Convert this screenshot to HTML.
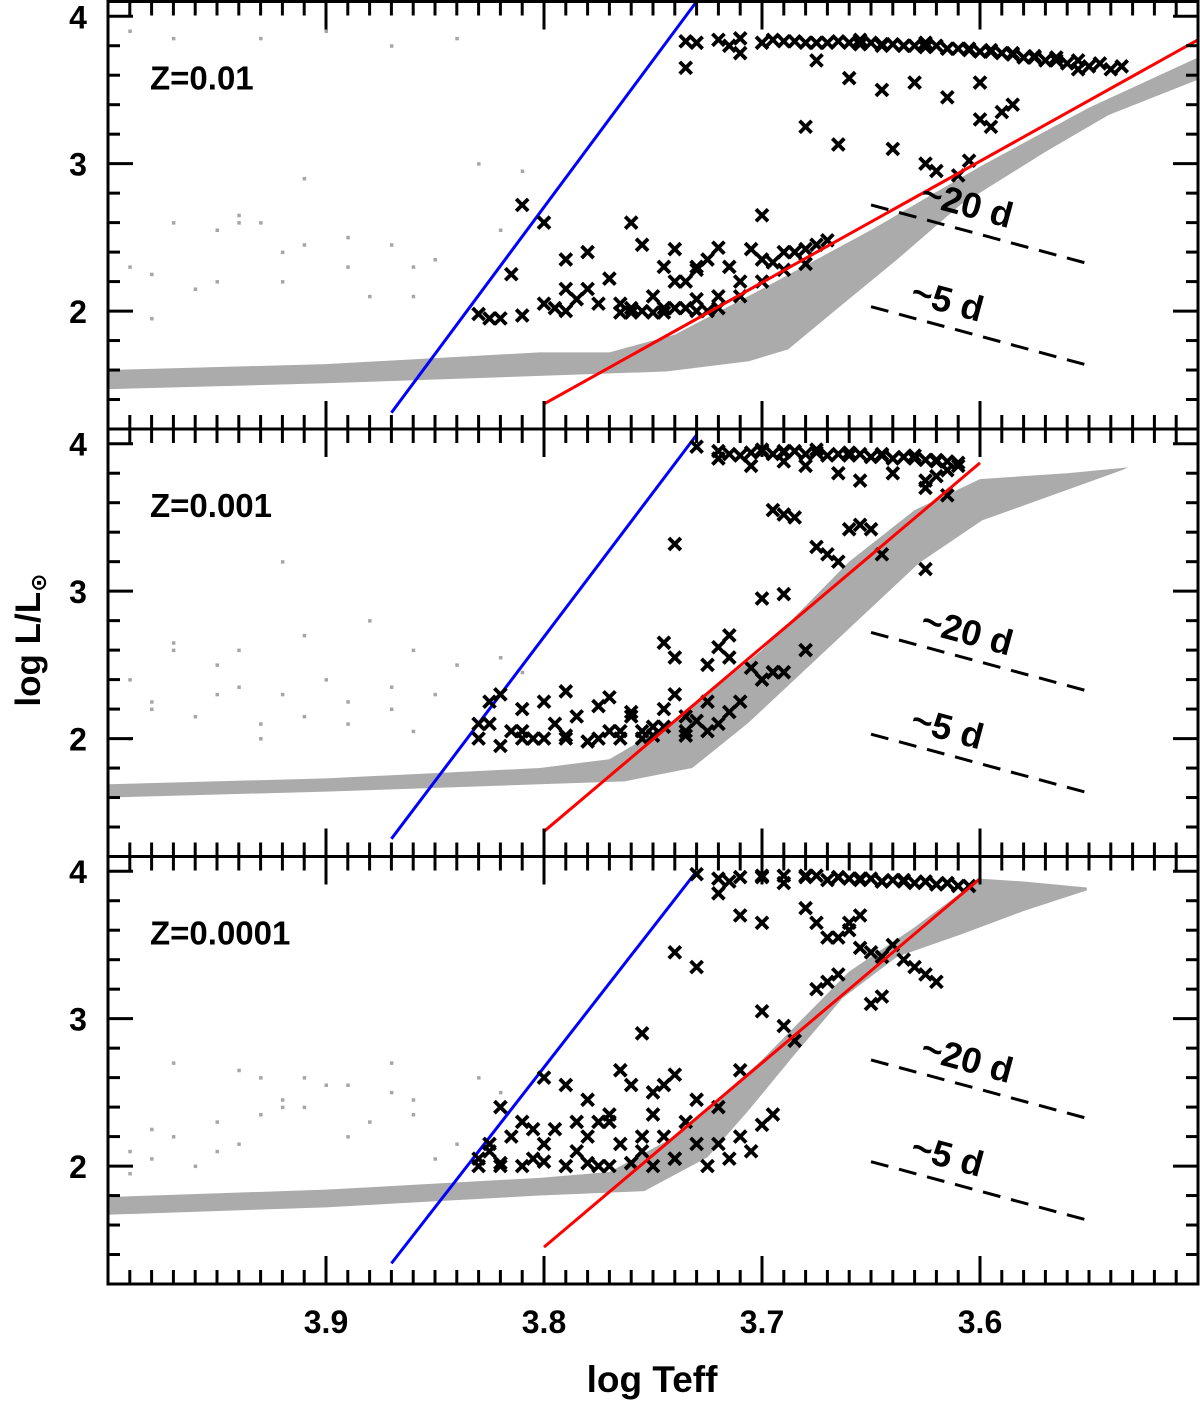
<!DOCTYPE html>
<html><head><meta charset="utf-8"><style>
body{margin:0;background:#fff}
svg{display:block}
text{font-family:"Liberation Sans","DejaVu Sans",sans-serif;font-weight:bold;fill:#000}
</style></head><body>
<svg id="chart" width="1200" height="1405" viewBox="0 0 1200 1405" xmlns="http://www.w3.org/2000/svg"></svg>
<script>
// ---------- data ----------
const panelLabels = ["Z=0.01","Z=0.001","Z=0.0001"];
const yTickValues = [2,3,4];
const xTickValues = [3.9,3.8,3.7,3.6];
const xTickLabels = ["3.9","3.8","3.7","3.6"];
const periodLabels = ["~20 d","~5 d"];
const blueLines = [[[3.87,1.31],[3.73,4.1]],[[3.87,1.32],[3.73,4.06]],[[3.87,1.34],[3.73,4.0]]];
const redLines = [[[3.80,1.37],[3.50,3.84]],[[3.80,1.37],[3.60,3.87]],[[3.80,1.45],[3.60,3.95]]];
const dash20 = [[3.65,2.72],[3.55,2.32]];
const dash5 = [[3.65,2.03],[3.55,1.63]];
const starBands = [
 [[4.0,1.47],[3.9,1.51],[3.802,1.56],[3.744,1.59],[3.706,1.66],[3.688,1.74],[3.666,2.01],[3.638,2.35],[3.609,2.72],[3.57,3.08],[3.541,3.33],[3.5,3.57],
  [3.5,3.72],[3.55,3.38],[3.6,2.98],[3.65,2.55],[3.7,2.15],[3.74,1.84],[3.77,1.72],[3.802,1.72],[3.9,1.64],[4.0,1.6]],
 [[4.0,1.6],[3.9,1.64],[3.802,1.69],[3.763,1.71],[3.732,1.80],[3.706,2.11],[3.667,2.65],[3.628,3.19],[3.599,3.48],[3.535,3.82],
  [3.532,3.84],[3.56,3.8],[3.6,3.76],[3.63,3.55],[3.66,3.2],[3.7,2.6],[3.74,2.12],[3.77,1.86],[3.802,1.8],[3.9,1.73],[4.0,1.69]],
 [[4.0,1.67],[3.9,1.72],[3.802,1.8],[3.754,1.83],[3.725,2.06],[3.706,2.38],[3.686,2.74],[3.663,3.14],[3.638,3.42],[3.609,3.57],[3.58,3.73],[3.551,3.87],
  [3.551,3.89],[3.58,3.93],[3.6,3.95],[3.63,3.62],[3.66,3.32],[3.7,2.72],[3.74,2.2],[3.77,1.96],[3.802,1.92],[3.9,1.84],[4.0,1.79]]
];
const grayDotsTeff = [3.99,3.97,3.95,3.93,3.91,3.89,3.87,3.86,3.84,3.96,3.94,3.92,3.98,3.90,3.88,3.85,3.83,3.82,3.97,3.93,3.99,3.92,3.95,3.87,3.81,3.86,3.89,3.94,3.98,3.91];
const grayDotsL = [
 [2.3,2.6,2.2,3.85,2.9,2.5,2.45,2.3,3.85,2.15,2.6,2.4,2.25,3.9,2.1,2.35,3.0,2.55,3.85,2.6,3.9,2.2,2.55,3.8,2.95,2.1,2.3,2.65,1.95,2.45],
 [2.0,2.6,2.3,2.1,2.7,2.25,2.35,2.05,2.5,2.15,2.6,3.2,2.2,2.4,2.8,2.3,2.1,2.55,2.65,2.0,2.4,2.3,2.5,2.2,2.45,2.6,2.1,2.35,2.25,2.15],
 [2.1,2.7,2.3,2.6,2.4,2.2,2.5,2.35,2.15,2.0,2.65,2.45,2.25,2.55,2.3,2.05,2.6,2.5,2.2,2.35,1.95,2.4,2.1,2.7,2.3,2.45,2.55,2.15,2.05,2.6]
];
const crossTeff = [
 [3.735,3.73,3.72,3.715,3.71,3.69,3.68,3.67,3.665,3.66,3.655,3.65,3.645,3.64,3.635,3.63,3.625,3.62,3.615,3.61,3.605,3.60,3.595,3.59,3.585,3.58,3.575,3.57,3.565,3.56,3.555,3.55,3.545,3.54,3.535,
  3.735,3.71,3.675,3.66,3.645,3.63,3.615,3.60,3.59,3.585,3.68,3.665,3.64,3.625,3.62,3.60,3.595,3.61,3.605,
  3.83,3.825,3.82,3.81,3.80,3.795,3.79,3.785,3.78,3.775,3.77,3.76,3.755,3.75,3.745,3.74,3.735,3.73,3.725,3.72,3.715,3.71,3.705,3.70,3.695,3.69,3.685,3.68,3.675,3.67,3.745,3.74,3.735,3.725,3.71,3.79,3.80,3.81,3.78,3.76,3.70,3.815,3.79,3.765,3.755,3.73,3.72,
  3.70,3.695,3.685,3.675,3.655,3.645,3.635,3.625,3.615,3.605,3.595,3.585,3.575,3.565,3.555,
  3.765,3.76,3.75,3.745,3.73,3.72,3.74,3.73,3.70,3.69,3.68],
 [3.73,3.72,3.715,3.71,3.705,3.70,3.695,3.69,3.685,3.68,3.675,3.67,3.665,3.66,3.655,3.65,3.645,3.64,3.635,3.63,3.625,3.62,3.615,3.61,
  3.72,3.705,3.69,3.68,3.665,3.655,3.64,3.625,3.615,3.695,3.69,3.685,3.66,3.655,3.65,3.675,3.67,3.665,3.645,3.625,3.74,3.70,3.69,
  3.83,3.825,3.82,3.815,3.81,3.805,3.80,3.795,3.79,3.785,3.78,3.775,3.77,3.765,3.76,3.755,3.75,3.745,3.74,3.735,3.73,3.725,3.72,3.715,3.71,3.705,3.70,3.695,3.69,3.745,3.74,3.72,3.715,3.715,3.725,3.68,3.695,3.81,3.79,3.77,3.76,3.75,3.735,
  3.70,3.69,3.675,3.66,3.645,3.63,3.62,3.615,3.62,3.61,3.625,
  3.83,3.825,3.82,3.81,3.80,3.79,3.775,3.765,3.755,3.745,3.735,3.725],
 [3.73,3.72,3.715,3.71,3.70,3.69,3.68,3.675,3.67,3.665,3.66,3.655,3.65,3.645,3.64,3.635,3.63,3.625,3.62,3.615,3.61,3.605,
  3.72,3.71,3.70,3.68,3.675,3.67,3.66,3.655,3.65,3.645,3.64,3.635,3.63,3.625,3.62,3.675,3.67,3.665,3.65,3.645,3.74,3.73,3.70,3.69,3.685,3.755,3.745,3.71,
  3.83,3.825,3.82,3.815,3.81,3.805,3.80,3.795,3.79,3.785,3.78,3.775,3.77,3.765,3.76,3.755,3.75,3.745,3.74,3.735,3.73,3.725,3.72,3.715,3.71,3.705,3.70,3.695,3.82,3.80,3.78,3.765,3.75,3.74,3.76,3.72,3.73,3.79,3.775,3.755,
  3.70,3.69,3.68,3.665,3.655,3.645,3.635,3.625,3.615,3.66,3.665,3.655,
  3.83,3.82,3.81,3.80,3.79,3.78,3.77,3.76,3.75,3.74,3.825,3.805,3.785,3.77]
];
const crossL = [
 [3.83,3.82,3.84,3.80,3.85,3.83,3.82,3.82,3.83,3.82,3.81,3.82,3.80,3.81,3.80,3.80,3.79,3.80,3.78,3.78,3.77,3.76,3.76,3.75,3.75,3.72,3.73,3.70,3.72,3.68,3.70,3.66,3.68,3.64,3.66,
  3.65,3.75,3.70,3.58,3.50,3.55,3.45,3.55,3.35,3.40,3.25,3.13,3.10,3.00,2.95,3.30,3.25,2.92,3.02,
  1.98,1.95,1.95,1.97,2.05,2.02,2.00,2.08,2.15,2.05,2.22,2.02,2.00,2.10,2.30,2.42,2.20,2.08,2.35,2.43,2.30,2.20,2.42,2.20,2.33,2.28,2.40,2.32,2.45,2.48,2.02,2.02,2.02,2.00,2.10,2.15,2.60,2.72,2.40,2.60,2.65,2.25,2.35,2.05,2.45,2.28,2.10,
  3.82,3.84,3.83,3.82,3.84,3.81,3.80,3.82,3.78,3.78,3.77,3.74,3.72,3.70,3.64,
  1.99,1.99,1.99,1.99,2.00,2.02,2.20,2.30,2.35,2.40,2.42],
 [3.98,3.95,3.93,3.92,3.94,3.95,3.93,3.94,3.95,3.93,3.94,3.92,3.93,3.92,3.93,3.91,3.92,3.90,3.91,3.90,3.89,3.89,3.88,3.87,
  3.90,3.85,3.88,3.85,3.80,3.75,3.80,3.70,3.65,3.55,3.52,3.50,3.42,3.45,3.42,3.30,3.25,3.20,3.25,3.15,3.32,2.95,2.98,
  2.10,2.25,2.30,2.05,2.20,2.00,2.25,2.10,2.02,2.15,1.98,2.22,2.05,2.00,2.15,2.05,2.08,2.20,2.30,2.02,2.12,2.05,2.10,2.18,2.25,2.48,2.40,2.45,2.45,2.65,2.55,2.62,2.55,2.70,2.50,2.60,2.45,2.00,2.32,2.28,2.18,2.02,2.05,
  3.96,3.95,3.96,3.94,3.93,3.92,3.88,3.82,3.78,3.85,3.75,
  2.00,2.10,1.95,2.05,2.00,2.00,2.00,2.05,2.00,2.08,2.15,2.25],
 [3.98,3.95,3.93,3.96,3.97,3.92,3.96,3.97,3.94,3.96,3.95,3.94,3.95,3.93,3.94,3.93,3.92,3.93,3.91,3.92,3.90,3.90,
  3.85,3.70,3.65,3.75,3.65,3.55,3.60,3.48,3.45,3.42,3.50,3.40,3.35,3.30,3.25,3.20,3.25,3.30,3.10,3.15,3.45,3.35,3.05,2.95,2.85,2.90,2.55,2.65,
  2.05,2.10,2.00,2.20,2.30,2.05,2.15,2.25,2.00,2.10,2.45,2.00,2.30,2.15,2.02,2.10,2.35,2.20,2.05,2.30,2.15,2.00,2.40,2.05,2.20,2.10,2.28,2.35,2.40,2.60,2.20,2.65,2.50,2.62,2.55,2.15,2.45,2.55,2.30,2.20,
  3.96,3.97,3.97,3.96,3.95,3.93,3.94,3.93,3.92,3.65,3.55,3.70,
  2.00,2.02,2.00,2.03,2.00,2.02,2.00,2.02,2.00,2.05,2.15,2.25,2.30,2.35]
];
// ---------- geometry ----------
const X0=108, X1=1198, tops=[1.5,429,856.5], PH=427.5;
const TMAX=4.0, TMIN=3.5, LMIN=1.2, LMAX=4.1;
const xs = t => X0 + (TMAX - t)/(TMAX-TMIN)*(X1-X0);
const ys = (p,l) => tops[p] + (LMAX - l)/(LMAX-LMIN)*PH;
const NS="http://www.w3.org/2000/svg";
const svg=document.getElementById('chart');
function mk(tag,attrs,parent){const e=document.createElementNS(NS,tag);for(const k in attrs)e.setAttribute(k,attrs[k]);(parent||svg).appendChild(e);return e;}

for(let p=0;p<3;p++){
 const g=mk('g',{});
 
 
 const poly=mk('polygon',{points:starBands[p].map(d=>xs(d[0])+','+ys(p,d[1])).join(' '),fill:'#ababab'},g);
 
 
 for(let i=0;i<grayDotsTeff.length;i++){
  const r=mk('rect',{x:xs(grayDotsTeff[i])-1.5,y:ys(p,grayDotsL[p][i])-1.5,width:3.5,height:3.5,fill:'#a6a6a6'},g);
  
  
 }
 const bl=blueLines[p], rl=redLines[p];
 const b=mk('line',{x1:xs(bl[0][0]),y1:ys(p,bl[0][1]),x2:xs(bl[1][0]),y2:ys(p,bl[1][1]),stroke:'#0000ff','stroke-width':3},g);
 
 
 for(let i=0;i<crossTeff[p].length;i++){
  const cx=xs(crossTeff[p][i]), cy=ys(p,crossL[p][i]), s=6;
  const c=mk('path',{d:`M${cx-s},${cy-s}L${cx+s},${cy+s}M${cx-s},${cy+s}L${cx+s},${cy-s}`,stroke:'#000','stroke-width':3.8},g);
  
  
 }
 const r=mk('line',{x1:xs(rl[0][0]),y1:ys(p,rl[0][1]),x2:xs(rl[1][0]),y2:ys(p,rl[1][1]),stroke:'#ff0000','stroke-width':3},g);
 
 
 [dash20,dash5].forEach((d,k)=>{
  const x1=xs(d[0][0]),y1=ys(p,d[0][1]),x2=xs(d[1][0]),y2=ys(p,d[1][1]);
  const l=mk('line',{x1,y1,x2,y2,stroke:'#000','stroke-width':3,'stroke-dasharray':'18,11'},g);
  
  
  const ang=Math.atan2(y2-y1,x2-x1)*180/Math.PI;
  const off=k?38:48;
  const tx=x1+off, ty=y1+(y2-y1)/(x2-x1)*off-14;
  const t=mk('text',{x:tx,y:ty,'font-size':36,transform:`rotate(${ang} ${tx} ${ty})`},g);
  t.textContent=periodLabels[k];
  
  
 });
 const pl=mk('text',{x:150,y:tops[p]+88,'font-size':33},g);
 pl.textContent=panelLabels[p];
 
 
 for(let v=1.2;v<=4.1001;v+=0.2){
  const yy=ys(p,v); const major=Math.abs(v-Math.round(v))<0.01;
  const len=major?25:12;
  mk('line',{x1:X0,y1:yy,x2:X0+len,y2:yy,stroke:'#000','stroke-width':3},g);
  mk('line',{x1:X1,y1:yy,x2:X1-len,y2:yy,stroke:'#000','stroke-width':3},g);
 }
 yTickValues.forEach(v=>{
  const t=mk('text',{x:78,y:ys(p,v)+12,'font-size':32,'text-anchor':'middle'},g);
  t.textContent=String(v);
  
  
 });
 for(let i=0;i<=50;i++){
  const t=TMAX-i*0.01, xx=xs(t); const major=(i%10===0);
  const len=major?28:14;
  mk('line',{x1:xx,y1:tops[p],x2:xx,y2:tops[p]+len,stroke:'#000','stroke-width':3},g);
  mk('line',{x1:xx,y1:tops[p]+PH,x2:xx,y2:tops[p]+PH-len,stroke:'#000','stroke-width':3},g);
 }
 const fr=mk('rect',{x:X0,y:tops[p],width:X1-X0,height:PH,fill:'none',stroke:'#000','stroke-width':3},g);
 
 
}
xTickValues.forEach((v,i)=>{
 const t=mk('text',{x:xs(v),y:1333,'font-size':32,'text-anchor':'middle'});
 t.textContent=xTickLabels[i];
 
 
});
const xt=mk('text',{x:652,y:1392,'font-size':37,'text-anchor':'middle'});
xt.textContent='log Teff';


const yt=mk('text',{x:40,y:640,'font-size':35,'text-anchor':'middle',transform:'rotate(-90 40 640)'});


const t1=mk('tspan',{},yt); t1.textContent='log L/L';
const t2=mk('tspan',{'font-size':22,dy:6},yt); t2.textContent='\u2299';
</script>
</body></html>
